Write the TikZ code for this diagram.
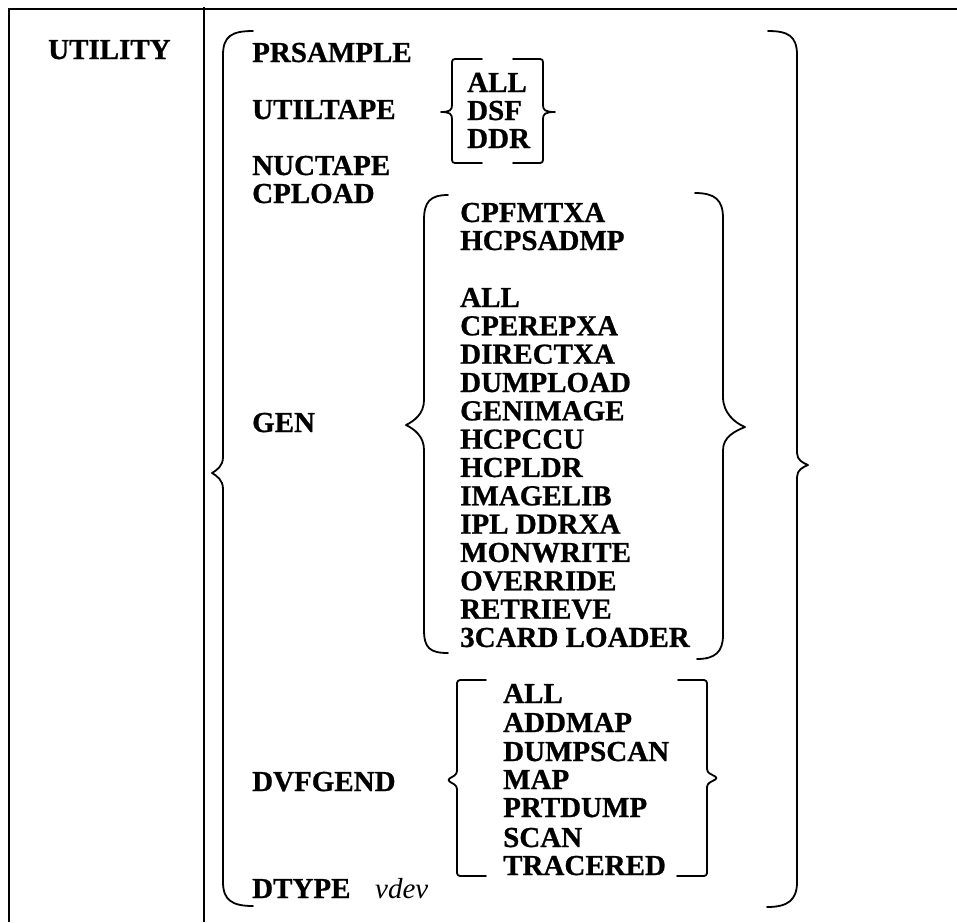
\documentclass[tikz,border=0pt]{standalone}
\usepackage{fontspec}
\setmainfont{Liberation Serif}[BoldFeatures={FakeBold=0.8}]
\begin{document}
\begin{tikzpicture}[x=1pt,y=-1pt,
  frame/.style={line width=2pt,black},
  brace/.style={line width=1.8pt,black,line cap=round,line join=round},
  kw/.style={anchor=base west,inner sep=0pt,font=\fontsize{29}{29}\selectfont\bfseries},
  var/.style={anchor=base west,inner sep=0pt,font=\fontsize{29}{29}\selectfont\itshape}]
\useasboundingbox (0,0) rectangle (957,922);
% frame
\coordinate (tl) at (9,9);
\coordinate (tr) at (957,9);
\coordinate (bl) at (9,922);
\coordinate (dt) at (204,7);
\coordinate (db) at (204,922);
\draw[frame] (bl) -- (tl) -- (tr);
\draw[frame] (dt) -- (db);
% texts
\node[kw] (utility) at (48,59) {UTILITY};
\node[kw] (prsample) at (252,62) {PRSAMPLE};
\node[kw] (utiltape) at (252,119) {UTILTAPE};
\node[kw] (nuctape) at (252,175) {NUCTAPE};
\node[kw] (cpload) at (252,203) {CPLOAD};
\node[kw] (gen) at (252,432) {GEN};
\node[kw] (dvfgend) at (252,791) {DVFGEND};
\node[kw] (dtype) at (252,898) {DTYPE};
\node[var] (vdev) at (375,898) {vdev};
% utiltape options
\node[kw] (uall) at (467,92) {ALL};
\node[kw] (udsf) at (467,120) {DSF};
\node[kw] (uddr) at (467,148) {DDR};
% gen options
\node[kw] (gcpf) at (460,222) {CPFMTXA};
\node[kw] (ghcp) at (460,250) {HCPSADMP};
\foreach \t [count=\i from 0] in {ALL,CPEREPXA,DIRECTXA,DUMPLOAD,GENIMAGE,HCPCCU,HCPLDR,IMAGELIB,IPL DDRXA,MONWRITE,OVERRIDE,RETRIEVE,3CARD LOADER}
  \node[kw] (g\i) at (460,307+28.33*\i) {\t};
% dvfgend options
\foreach \t/\yy [count=\i] in {ALL/703,ADDMAP/732,DUMPSCAN/761,MAP/789,PRTDUMP/817,SCAN/847,TRACERED/875}
  \node[kw] (d\i) at (503,\yy) {\t};
% outer braces
\draw[brace] (253,31) .. controls (232,31) and (223,36) .. (223,55) -- (223,457)
  .. controls (223,466) and (217,470) .. (212,473)
  .. controls (217,476) and (223,480) .. (223,489) -- (223,882)
  .. controls (223,900) and (232,906) .. (253,906);
\draw[brace] (768,31) .. controls (788,31) and (797,36) .. (797,55) -- (797,453)
  .. controls (797,460) and (803,463) .. (808,465)
  .. controls (803,467) and (797,470) .. (797,477) -- (797,882)
  .. controls (797,900) and (788,907) .. (767,907);
% gen braces
\draw[brace] (448,195) .. controls (430,195) and (424,202) .. (424,220) -- (424,400)
  .. controls (424,414) and (414,421) .. (406,425)
  .. controls (414,429) and (424,436) .. (424,450) -- (424,630)
  .. controls (424,648) and (430,653) .. (448,653);
\draw[brace] (695,193) .. controls (715,193) and (723,200) .. (723,218) -- (723,397)
  .. controls (723,413) and (735,423) .. (745,427)
  .. controls (735,431) and (723,437) .. (723,450) -- (723,635)
  .. controls (723,652) and (715,659) .. (697,659);
% utiltape bracket braces
\draw[brace] (482,59) -- (455,59) .. controls (453,59) and (452,60) .. (452,62) -- (452,105)
  .. controls (452,110) and (450,112) .. (441,112)
  .. controls (450,112) and (452,114) .. (452,119) -- (452,160)
  .. controls (452,162) and (453,163) .. (455,163) -- (482,163);
\draw[brace] (513,59) -- (540,59) .. controls (542,59) and (543,60) .. (543,62) -- (543,105)
  .. controls (543,110) and (545,112) .. (555,112)
  .. controls (545,112) and (543,114) .. (543,119) -- (543,160)
  .. controls (543,162) and (542,163) .. (540,163) -- (513,163);
% dvfgend bracket braces
\draw[brace,rounded corners=3pt] (486,680) -- (457,680) -- (457,774) -- (447,780) -- (457,786) -- (457,876) -- (486,876);
\draw[brace,rounded corners=3pt] (678,680) -- (707,680) -- (707,772) -- (718,778) -- (707,784) -- (707,876) -- (677,876);
\end{tikzpicture}
\end{document}
